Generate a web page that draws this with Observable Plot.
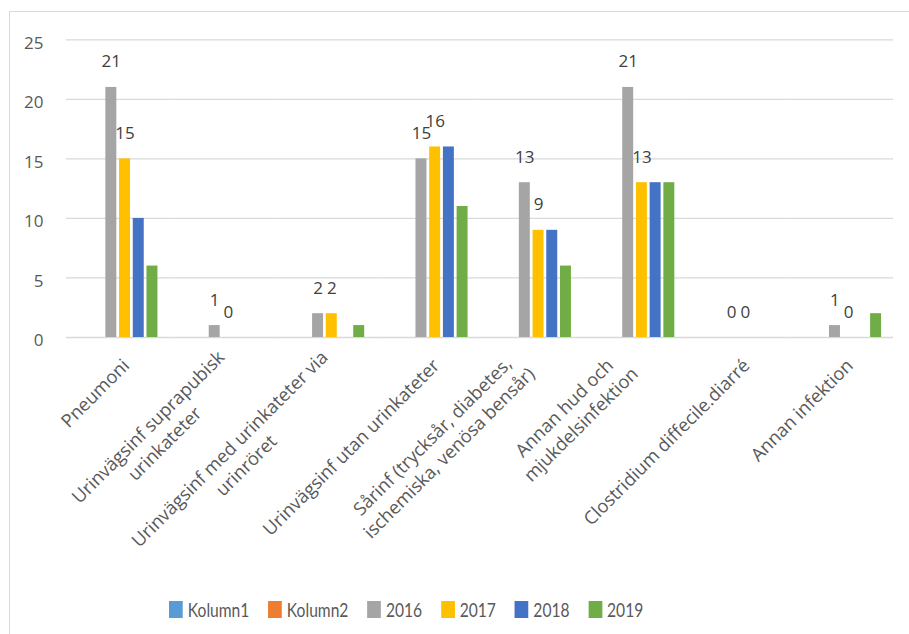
<!DOCTYPE html>
<html>
<head>
<meta charset="utf-8">
<script src="https://cdn.jsdelivr.net/npm/d3@7"></script>
<script src="https://cdn.jsdelivr.net/npm/@observablehq/plot@0.6"></script>
<style>
  html, body { margin: 0; padding: 0; background: #ffffff; }
  #frame { position: absolute; left: 9px; top: 11px; width: 1000px; height: 1000px;
           border-left: 1px solid #d9d9d9; border-top: 1px solid #d9d9d9; pointer-events: none; }
  #chart svg { display: block; }
  .lg-swatches { margin: 2.5px 0 0 169px !important; min-height: 33px !important;
                 font-family: Lato, sans-serif !important; font-size: 20px !important; color: #595959 !important;
                 transform: scaleX(0.78); transform-origin: 0 50%; white-space: nowrap; width: 700px; }
  .lg-swatch { margin-right: 24px !important; font-size: 20px !important; }
  .lg-swatch > svg { margin-right: 6.5px !important; }
</style>
</head>
<body>
<div id="chart"></div>
<div id="legend"></div>
<div id="frame"></div>
<script>
// ---- data ----
const categories = [
  "Pneumoni",
  "Urinvägsinf suprapubisk urinkateter",
  "Urinvägsinf med urinkateter via urinröret",
  "Urinvägsinf utan urinkateter",
  "Sårinf (trycksår, diabetes, ischemiska, venösa bensår)",
  "Annan hud och mjukdelsinfektion",
  "Clostridium diffecile.diarré",
  "Annan infektion"
];
const tickLabels = [
  "Pneumoni",
  "Urinvägsinf suprapubisk\nurinkateter",
  "Urinvägsinf med urinkateter via\nurinröret",
  "Urinvägsinf utan urinkateter",
  "Sårinf (trycksår, diabetes,\nischemiska, venösa bensår)",
  "Annan hud och\nmjukdelsinfektion",
  "Clostridium diffecile.diarré",
  "Annan infektion"
];
const series = ["Kolumn1", "Kolumn2", "2016", "2017", "2018", "2019"];
const seriesColors = ["#5B9BD5", "#ED7D31", "#A5A5A5", "#FFC000", "#4472C4", "#70AD47"];
const kolumn1 = [null, null, null, null, null, null, null, null];
const kolumn2 = [null, null, null, null, null, null, null, null];
const v2016 = [21, 1, 2, 15, 13, 21, 0, 1];
const v2017 = [15, 0, 2, 16, 9, 13, 0, 0];
const v2018 = [10, null, null, 16, 9, 13, null, null];
const v2019 = [6, null, 1, 11, 6, 13, null, 2];
const labeledSeries = ["2016", "2017"];
const yTicks = [0, 5, 10, 15, 20, 25];

// ---- table ----
const valuesBySeries = [kolumn1, kolumn2, v2016, v2017, v2018, v2019];
const rows = [];
categories.forEach((c, i) => {
  series.forEach((s, j) => {
    const v = valuesBySeries[j][i];
    if (v != null) rows.push({category: c, series: s, value: v});
  });
});
const labelRows = rows.filter(d => labeledSeries.includes(d.series));

const catFont = 18.3;
const catLineHeight = 1.28;

const chart = Plot.plot({
  width: 909,
  height: 590,
  marginTop: 39.3,
  marginBottom: 253,
  marginLeft: 66,
  marginRight: 16,
  style: {fontFamily: "'Open Sans', sans-serif", fontSize: "17px", color: "#595959", background: "#ffffff", overflow: "visible"},
  fx: {domain: categories, padding: 0, label: null, round: false},
  x: {domain: series, paddingInner: 0.2, paddingOuter: 0.87, axis: null, round: false},
  y: {domain: [0, 25], label: null},
  color: {domain: series, range: seriesColors},
  marks: [
    Plot.gridY(yTicks, {stroke: "#d9d9d9", strokeOpacity: 1, strokeWidth: 1.3}),
    Plot.axisY(yTicks, {tickSize: 0, tickPadding: 23, dy: 3.5, label: null, fontSize: 17}),
    Plot.barY(rows, {fx: "category", x: "series", y: "value", fill: "series"}),
    Plot.text(labelRows, {fx: "category", x: "series", y: "value", text: d => String(d.value),
      lineAnchor: "bottom", dy: -20, fill: "#404040", fontSize: 17}),
    Plot.axisFx({anchor: "bottom", tickSize: 0, tickRotate: -45, tickPadding: 24, dx: 7,
      lineHeight: catLineHeight, label: null, fontSize: catFont,
      tickFormat: c => tickLabels[categories.indexOf(c)]})
  ]
});
document.getElementById("chart").appendChild(chart);

// Excel-style wrapped rotated labels: lines centered on each other,
// longest line's end aligned to the same spot as single-line labels.
chart.querySelectorAll('g[aria-label="fx-axis tick label"] text').forEach(t => {
  const spans = Array.from(t.querySelectorAll("tspan"));
  if (spans.length > 1) {
    const widths = spans.map(s => s.getComputedTextLength());
    const w = Math.max(...widths);
    const iMax = widths.indexOf(w);
    spans.forEach(s => { s.setAttribute("text-anchor", "middle"); s.setAttribute("x", -w / 2); });
    const shift = iMax * catFont * catLineHeight * Math.SQRT1_2;
    t.setAttribute("transform", `translate(${-shift},0) ` + (t.getAttribute("transform") || ""));
  }
});

const legend = Plot.legend({
  color: {domain: series, range: seriesColors},
  legend: "swatches",
  swatchWidth: 17.6,
  swatchHeight: 17,
  className: "lg",
  style: {fontFamily: "Lato, sans-serif", fontSize: "20px", color: "#595959"}
});
document.getElementById("legend").appendChild(legend);
</script>
</body>
</html>
